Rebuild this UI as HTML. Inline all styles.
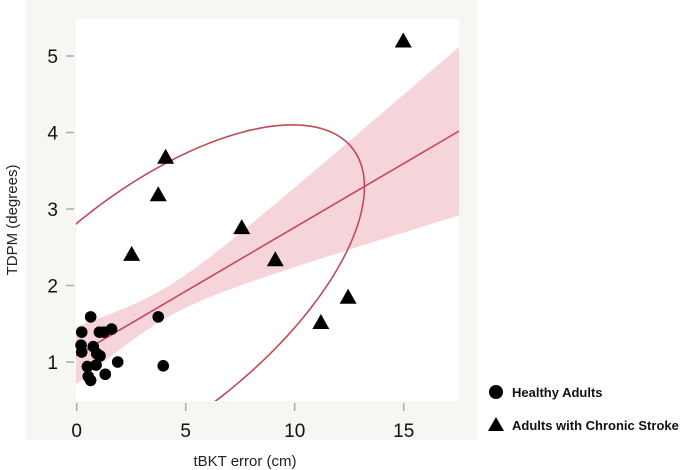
<!DOCTYPE html>
<html><head><meta charset="utf-8"><style>
body{margin:0;background:#fff;}
svg{display:block;font-family:"Liberation Sans",sans-serif;}
</style></head><body>
<svg id="chart" width="700" height="470">
<rect x="26" y="0" width="451" height="440" fill="#f6f6f2"/>
<rect x="76" y="19" width="383" height="382" fill="#fff"/>
<defs><clipPath id="clip"><rect x="76" y="19" width="383" height="382"/></clipPath></defs>
<g id="band" clip-path="url(#clip)"></g>
<g id="axes"></g>
<g id="marks"></g>
<text x="245" y="466" font-size="15" text-anchor="middle" fill="#222">tBKT error (cm)</text>
<text transform="translate(17,220) rotate(-90)" font-size="15" text-anchor="middle" fill="#222">TDPM (degrees)</text>
<g>
<circle cx="496" cy="392" r="7" fill="#000"/>
<text x="512" y="397" font-size="13" font-weight="bold" fill="#111">Healthy Adults</text>
<polygon points="496,417 504,431 488,431" fill="#000"/>
<text x="512" y="430" font-size="13" font-weight="bold" fill="#111">Adults with Chronic Stroke</text>
</g>
</svg>
<script>
const xTicks=[0,5,10,15];
const yTicks=[1,2,3,4,5];
const healthyX=[0.23,0.2,0.23,0.64,1.04,1.25,1.6,0.76,0.92,1.07,0.49,0.89,0.53,0.64,1.31,1.88,3.74,3.97];
const healthyY=[1.39,1.22,1.13,1.59,1.39,1.39,1.43,1.2,1.11,1.08,0.94,0.96,0.81,0.76,0.84,1.0,1.59,0.95];
const strokeX=[4.08,3.74,2.52,7.57,9.11,11.2,12.45,14.98];
const strokeY=[3.67,3.18,2.40,2.75,2.33,1.51,1.84,5.19];
const fitIntercept=1.09, fitSlope=0.167;
const bandParams=[0.2,0.0064,4.0]; // min half-width, growth, centre x
const ellipseParams=[3.6,1.745,9.6,2.355,0.656]; // cx, cy, sx, sy, rho

const NS="http://www.w3.org/2000/svg";
const X=v=>76.7+v*21.8;
const Y=v=>362-(v-1)*76.5;
const xMin=-0.03,xMax=17.55;
function mk(tag,attrs,parent){const e=document.createElementNS(NS,tag);for(const k in attrs)e.setAttribute(k,attrs[k]);parent.appendChild(e);return e;}
const axes=document.getElementById('axes'),marks=document.getElementById('marks'),band=document.getElementById('band');
xTicks.forEach(t=>{
  const l=mk('line',{x1:X(t),x2:X(t),y1:403,y2:411,stroke:'#aaa','stroke-width':1.5},axes);
  
  
  const s=mk('text',{x:X(t),y:437,'font-size':19,'text-anchor':'middle',fill:'#111'},axes);s.textContent=t;
  
  
});
yTicks.forEach(t=>{
  const l=mk('line',{x1:66,x2:74,y1:Y(t),y2:Y(t),stroke:'#aaa','stroke-width':1.5},axes);
  
  
  const s=mk('text',{x:58,y:Y(t)+7,'font-size':19,'text-anchor':'end',fill:'#111'},axes);s.textContent=t;
  
  
});
const hw=x=>Math.sqrt(bandParams[0]**2+bandParams[1]*(x-bandParams[2])**2);
let up=[],lo=[];
for(let i=0;i<=60;i++){const x=xMin+(xMax-xMin)*i/60;const f=fitIntercept+fitSlope*x;up.push(X(x)+','+Y(f+hw(x)));lo.unshift(X(x)+','+Y(f-hw(x)));}
const bp=mk('polygon',{points:up.concat(lo).join(' '),fill:'#f5d5da'},band);


const fl=mk('line',{x1:X(xMin),y1:Y(fitIntercept+fitSlope*xMin),x2:X(xMax),y2:Y(fitIntercept+fitSlope*xMax),stroke:'#c8485a','stroke-width':1.6},band);


const [ecx,ecy,esx,esy,rho]=ellipseParams;const th=Math.acos(rho);
let ep=[];for(let i=0;i<=120;i++){const t=2*Math.PI*i/120;ep.push(X(ecx+esx*Math.cos(t))+','+Y(ecy+esy*Math.cos(t-th)));}
const el=mk('polyline',{points:ep.join(' '),fill:'none',stroke:'#c04a58','stroke-width':1.6},band);


healthyX.forEach((x,i)=>{
  const c=mk('circle',{cx:X(x),cy:Y(healthyY[i]),r:5.8,fill:'#000'},marks);
  
  
});
strokeX.forEach((x,i)=>{
  const cx=X(x),cy=Y(strokeY[i]);
  const p=mk('polygon',{points:`${cx},${cy-9} ${cx+8.5},${cy+6} ${cx-8.5},${cy+6}`,fill:'#000'},marks);
  
  
});
</script>
</body></html>
